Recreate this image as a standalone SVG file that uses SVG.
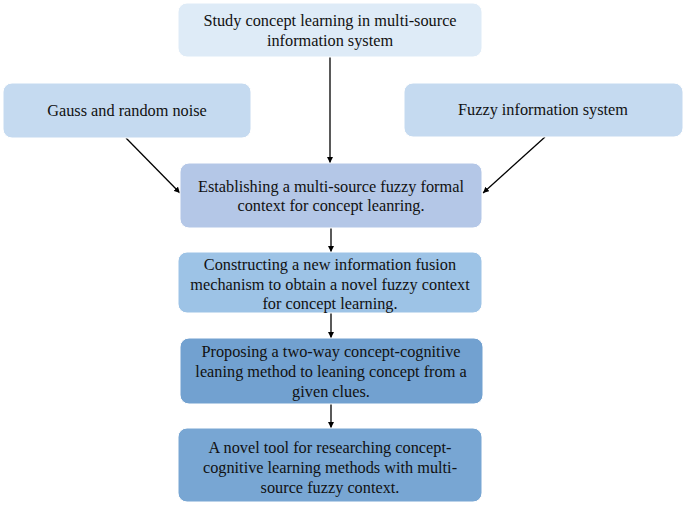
<svg xmlns="http://www.w3.org/2000/svg" width="685" height="506" viewBox="0 0 685 506">
<defs>
<marker id="ah" viewBox="0 0 10 10" refX="10" refY="5" markerWidth="6" markerHeight="6" orient="auto" markerUnits="userSpaceOnUse"><path d="M0,0 L10,5 L0,10 z" fill="#000"/></marker>
<style>
.t{font-family:"Liberation Serif","Times New Roman",serif;font-size:16.3px;fill:#111;text-anchor:middle}
.c{stroke:#000;stroke-width:1.3;fill:none;marker-end:url(#ah)}
.b{stroke:#fff;stroke-width:1}
</style>
</defs>
<rect width="685" height="506" fill="#fff"/>
<g id="connectors">
<line class="c" x1="330" y1="57" x2="330" y2="163"/>
<line class="c" x1="126" y1="138" x2="180" y2="193"/>
<line class="c" x1="545" y1="137" x2="483" y2="193"/>
<line class="c" x1="331" y1="228" x2="331" y2="252"/>
<line class="c" x1="331" y1="313" x2="331" y2="338"/>
<line class="c" x1="331" y1="404" x2="331" y2="428"/>
</g>
<g id="n1"><rect class="b" x="178" y="3" width="304" height="54" rx="9" fill="#DEEBF7"/>
<text class="t" x="330" y="26">Study concept learning in multi-source</text>
<text class="t" x="330" y="46">information system</text></g>
<g id="n2"><rect class="b" x="3" y="83" width="248" height="55" rx="9" fill="#C5DAF0"/>
<text class="t" x="127" y="116">Gauss and random noise</text></g>
<g id="n3"><rect class="b" x="404" y="83" width="279" height="54" rx="9" fill="#C5DAF0"/>
<text class="t" x="543" y="115">Fuzzy information system</text></g>
<g id="n4"><rect class="b" x="180" y="163" width="302" height="65" rx="9" fill="#B4C7E7"/>
<text class="t" x="331" y="192">Establishing a multi-source fuzzy formal</text>
<text class="t" x="331" y="211">context for concept leanring.</text></g>
<g id="n5"><rect class="b" x="178" y="252" width="304" height="61" rx="9" fill="#9DC3E6"/>
<text class="t" x="330" y="270">Constructing a new information fusion</text>
<text class="t" x="330" y="290">mechanism to obtain a novel fuzzy context</text>
<text class="t" x="330" y="309">for concept learning.</text></g>
<g id="n6"><rect class="b" x="180" y="338" width="303" height="66" rx="9" fill="#72A1D0"/>
<text class="t" x="331" y="357">Proposing a two-way concept-cognitive</text>
<text class="t" x="331" y="377">leaning method to leaning concept from a</text>
<text class="t" x="331" y="397">given clues.</text></g>
<g id="n7"><rect class="b" x="178" y="428" width="304" height="74" rx="9" fill="#78A6D3"/>
<text class="t" x="330" y="453">A novel tool for researching concept-</text>
<text class="t" x="330" y="473">cognitive learning methods with multi-</text>
<text class="t" x="330" y="493">source fuzzy context.</text></g>
</svg>
